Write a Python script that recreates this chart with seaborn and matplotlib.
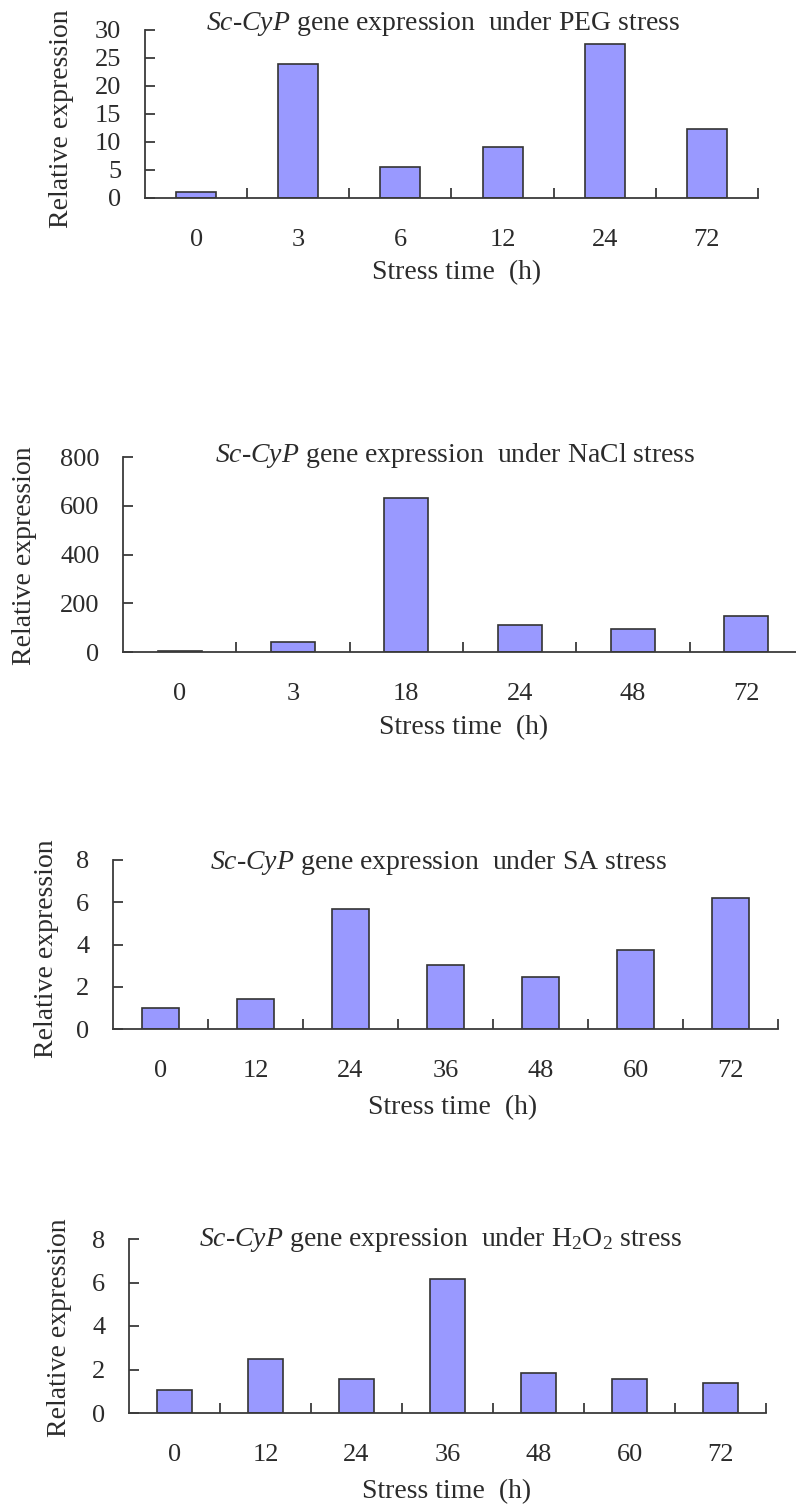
import matplotlib
matplotlib.use("Agg")
import matplotlib.pyplot as plt
import seaborn as sns
import pandas as pd
from matplotlib.ticker import FixedLocator, MultipleLocator

# ------------------------------------------------------------
# Data
# ------------------------------------------------------------
peg_times = ["0", "3", "6", "12", "24", "72"]
peg_values = [1.0, 23.9, 5.5, 9.1, 27.5, 12.3]

nacl_times = ["0", "3", "18", "24", "48", "72"]
nacl_values = [5, 41, 631, 110, 94, 148]

sa_times = ["0", "12", "24", "36", "48", "60", "72"]
sa_values = [1.0, 1.42, 5.7, 3.05, 2.46, 3.75, 6.2]

h2o2_times = ["0", "12", "24", "36", "48", "60", "72"]
h2o2_values = [1.05, 2.5, 1.56, 6.15, 1.82, 1.56, 1.38]

titles = [
    r"$\it{Sc}$-$\it{CyP}$ gene expression  under PEG stress",
    r"$\it{Sc}$-$\it{CyP}$ gene expression  under NaCl stress",
    r"$\it{Sc}$-$\it{CyP}$ gene expression  under SA stress",
    r"$\it{Sc}$-$\it{CyP}$ gene expression  under H$_2$O$_2$ stress",
]
y_max = [30, 800, 8, 8]
y_step = [5, 200, 2, 2]

# ------------------------------------------------------------
# Style
# ------------------------------------------------------------
sns.set_style("ticks")
plt.rcParams["font.family"] = ["Liberation Serif", "DejaVu Serif"]
plt.rcParams["mathtext.fontset"] = "custom"
plt.rcParams["mathtext.rm"] = "Liberation Serif"
plt.rcParams["mathtext.it"] = "Liberation Serif:italic"

W, H = 796, 1506
fig = plt.figure(figsize=(W / 100, H / 100), dpi=100)
fig.patch.set_facecolor("white")

# axes boxes in pixels: left, top, right, bottom
boxes = [(145, 30, 758, 198), (123, 457, 803, 652),
         (113, 860, 778, 1029), (129, 1239, 766, 1413)]
title_pos = [(443, 23), (455, 455), (439, 862), (440, 1240)]
ylabel_pos = [(62, 119), (25, 556), (47, 949), (60, 1328)]
xlabel_pos = [(457, 273), (464, 728), (453, 1108), (447, 1492)]

datasets = [(peg_times, peg_values), (nacl_times, nacl_values),
            (sa_times, sa_values), (h2o2_times, h2o2_values)]

axis_col = "#3a3a3a"
text_col = "#2b2b2b"

for i, (times, values) in enumerate(datasets):
    l, t, r, b = boxes[i]
    ax = fig.add_axes([l / W, 1 - b / H, (r - l) / W, (b - t) / H])
    df = pd.DataFrame({"time": times, "expr": values})
    sns.barplot(data=df, x="time", y="expr", order=times, color="#9999FF",
                saturation=1, width=0.39, edgecolor="#333333", linewidth=1.2,
                ax=ax)
    n = len(times)
    ax.set_xlim(-0.5, n - 0.5)
    ax.set_ylim(0, y_max[i])
    ax.yaxis.set_major_locator(MultipleLocator(y_step[i]))
    ax.xaxis.set_minor_locator(FixedLocator([k - 0.5 for k in range(1, n + 1)]))
    ax.set_xlabel("")
    ax.set_ylabel("")
    sns.despine(ax=ax)
    for side in ["left", "bottom"]:
        ax.spines[side].set_color(axis_col)
        ax.spines[side].set_linewidth(1.3)
    ax.tick_params(axis="x", which="major", length=0, pad=22,
                   labelsize=19, labelcolor=text_col)
    ax.tick_params(axis="x", which="minor", direction="in", length=7,
                   width=1.3, color=axis_col)
    ax.tick_params(axis="y", direction="in", length=7, width=1.3,
                   color=axis_col, pad=17, labelsize=19, labelcolor=text_col)
    ax.set_facecolor("white")

    tx, ty = title_pos[i]
    fig.text(tx / W, 1 - ty / H, titles[i], ha="center", va="center",
             fontsize=20, color=text_col)
    yx, yy = ylabel_pos[i]
    fig.text(yx / W, 1 - yy / H, "Relative expression", rotation=90,
             ha="center", va="center", fontsize=20, color=text_col)
    xx, xy = xlabel_pos[i]
    fig.text(xx / W, 1 - xy / H, "Stress time  (h)", ha="center",
             va="center", fontsize=20, color=text_col)

fig.savefig("out.png", dpi=100, facecolor="white")
